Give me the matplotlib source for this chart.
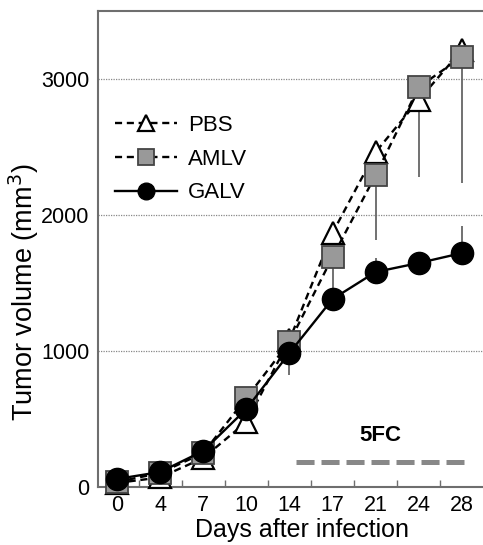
import matplotlib
matplotlib.use("Agg")
import matplotlib.pyplot as plt

plt.rcParams['font.family'] = ['Liberation Sans', 'DejaVu Sans']

# data
days = ["0", "4", "7", "10", "14", "17", "21", "24", "28"]
pbs = [30, 70, 213, 478, 1080, 1868, 2463, 2846, 3213]
amlv = [37, 103, 250, 654, 1066, 1691, 2294, 2941, 3162]
galv = [59, 110, 265, 573, 985, 1382, 1581, 1647, 1720]
amlv_err_lo = [0, 0, 0, 0, 0, 250, 478, 660, 927]
galv_err_lo = [0, 0, 0, 0, 160, 0, 0, 0, 0]
galv_err_hi = [0, 0, 0, 0, 0, 0, 103, 60, 200]
zeros = [0] * len(days)

fc_span = (4.15, 8.05)   # 5FC treatment period, in category units
fc_level = 185

W, H = 483, 545
fig = plt.figure(figsize=(W / 100, H / 100), dpi=100)
ax = fig.add_axes([98 / W, 1 - 487 / H, (W - 98) / W, (487 - 11) / H])

x = list(range(len(days)))
spine = '#6e6e6e'

for yv in [1000, 2000, 3000]:
    ax.axhline(yv, color='#888888', lw=0.9, ls=(0, (1, 1)), zorder=0)

ax.errorbar(x, amlv, yerr=[amlv_err_lo, zeros], fmt='none', ecolor='#666666',
            elinewidth=1.3, capsize=0, zorder=1)
ax.errorbar(x, galv, yerr=[galv_err_lo, galv_err_hi], fmt='none', ecolor='#666666',
            elinewidth=1.3, capsize=0, zorder=1)

ax.plot(x, pbs, color='black', lw=1.7, dashes=(3, 2), marker='^', ms=16,
        mfc='white', mec='black', mew=1.6, label='PBS', zorder=3, clip_on=False)
ax.plot(x, amlv, color='black', lw=1.7, dashes=(3, 2), marker='s', ms=16,
        mfc='#999999', mec='#444444', mew=1.3, label='AMLV', zorder=4, clip_on=False)
ax.plot(x, galv, color='black', lw=1.7, marker='o', ms=16,
        mfc='black', mec='black', label='GALV', zorder=5, clip_on=False)

# 5FC bar
ax.plot(fc_span, [fc_level, fc_level], color='#888888', lw=3.6,
        ls=(0, (13 / 3.6, 5 / 3.6)), solid_capstyle='butt', dash_capstyle='butt')
ax.text(sum(fc_span) / 2, fc_level + 120, '5FC', ha='center', va='bottom',
        fontsize=16, fontweight='bold')

ax.set_xlim(-0.44, 8.49)
ax.set_ylim(0, 3500)
ax.set_xticks(x)
ax.set_xticklabels(days)
ax.set_xticks([i + 0.5 for i in x[:-1]], minor=True)
ax.set_yticks([0, 1000, 2000, 3000])
ax.tick_params(axis='x', which='major', length=0, pad=6, labelsize=15.5)
ax.tick_params(axis='x', which='minor', direction='in', length=5, color=spine, width=1)
ax.tick_params(axis='y', length=0, pad=6, labelsize=15.5)

for s in ['left', 'bottom', 'top']:
    ax.spines[s].set_color(spine)
    ax.spines[s].set_linewidth(1.5)
ax.spines['right'].set_visible(False)

ax.set_xlabel('Days after infection', fontsize=18)
ax.set_ylabel('Tumor volume (mm$^3$)', fontsize=19.5)
ax.xaxis.set_label_coords(0.53, -0.066)
ax.yaxis.set_label_coords(-0.148, 0.41)

ax.legend(loc='upper left', bbox_to_anchor=(0.02, 0.80), frameon=False,
          fontsize=16, handlelength=2.8, markerscale=0.75, labelspacing=0.57,
          handletextpad=0.5, borderaxespad=0)

fig.savefig('out.png', dpi=100)
